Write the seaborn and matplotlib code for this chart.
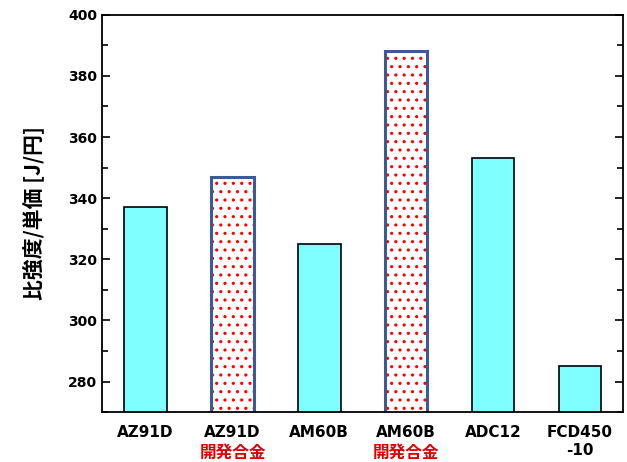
import matplotlib
matplotlib.use("Agg")
import matplotlib.pyplot as plt
import matplotlib.colors as mcolors
import seaborn as sns
import pandas as pd

# ---- data ----
categories = ["AZ91D", "AZ91D 開発合金", "AM60B", "AM60B 開発合金", "ADC12", "FCD450-10"]
tick_labels = ["AZ91D", "AZ91D", "AM60B", "AM60B", "ADC12", "FCD450\n-10"]
sub_labels = ["", "開発合金", "", "開発合金", "", ""]
values = [337, 347, 325, 388, 353, 285]
developed = [False, True, False, True, False, False]
y_ticks = [280, 300, 320, 340, 360, 380, 400]
y_label = "比強度/単価 [J/円]"

sns.set_theme(style="white")
plt.rcParams['font.family'] = ['DejaVu Sans', 'Noto Sans CJK JP']
plt.rcParams['hatch.linewidth'] = 1.1

fig = plt.figure(figsize=(6.27, 4.62), dpi=100)
ax = fig.add_axes([0.163, 0.108, 0.831, 0.860])

df = pd.DataFrame({"cat": categories, "val": values})
cyan = "#7FFFFF"
blue_edge = "#3B5A96"
palette = {c: ("white" if d else cyan) for c, d in zip(categories, developed)}
sns.barplot(data=df, x="cat", y="val", hue="cat", palette=palette, dodge=False,
            width=0.49, legend=False, ax=ax, saturation=1)

for patch, d in zip(ax.patches, developed):
    if d:
        patch.set_facecolor("white")
        patch.set_edgecolor(blue_edge)
        patch.set_linewidth(2.2)
        patch.set_hatch("..")
        patch._hatch_color = mcolors.to_rgba("red")
    else:
        patch.set_edgecolor("black")
        patch.set_linewidth(1.2)

ax.set_ylim(270, 400)
ax.set_xlim(-0.5, len(categories) - 0.5)
ax.set_yticks(y_ticks)
ax.set_yticks(range(270, 401, 10), minor=True)
ax.tick_params(axis="y", which="both", direction="in", left=True, right=True,
               length=6, width=1.2, labelsize=10, colors="black")
ax.tick_params(axis="y", which="minor", length=4)
ax.tick_params(axis="x", which="both", bottom=False, top=False)
for lab in ax.get_yticklabels():
    lab.set_fontweight("bold")

ax.set_xticks(range(len(categories)))
ax.set_xticklabels(tick_labels, fontsize=11, fontweight="bold", color="black",
                   linespacing=1.3)
ax.tick_params(axis="x", pad=3)
for i, s in enumerate(sub_labels):
    if s:
        ax.annotate(s, xy=(i, 0), xycoords=("data", "axes fraction"),
                    xytext=(0, -29), textcoords="offset points",
                    ha="center", va="center", color="#E00000", fontsize=12,
                    fontweight="bold", family=['Noto Sans CJK JP'])

ax.set_xlabel("")
ax.set_ylabel(y_label, fontsize=15, fontweight="bold", labelpad=17,
              color="black", family=['Noto Sans CJK JP', 'DejaVu Sans'])

for sp in ax.spines.values():
    sp.set_visible(True)
    sp.set_color("black")
    sp.set_linewidth(1.3)

fig.savefig("out.png", dpi=100, facecolor="white")
